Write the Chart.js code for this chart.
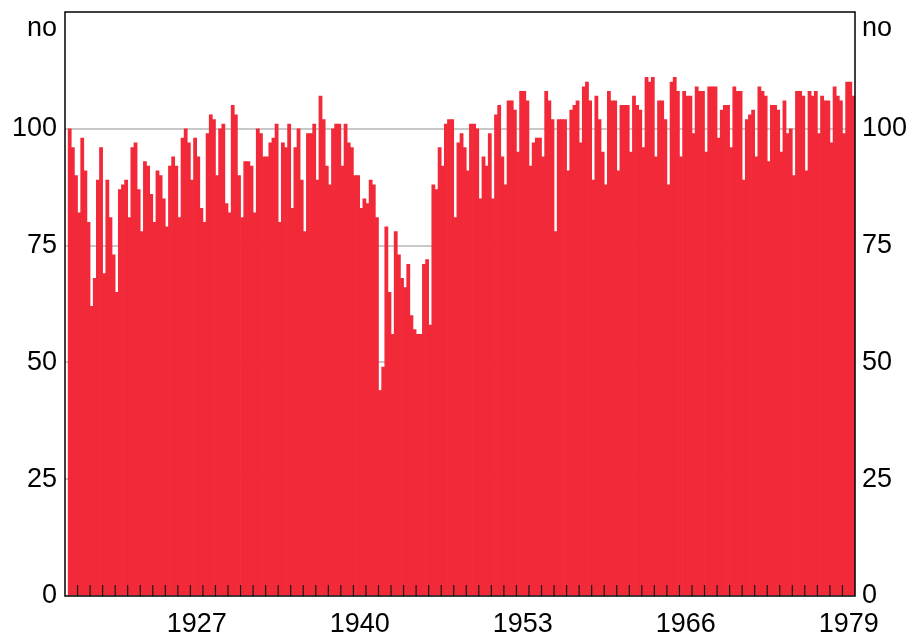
<!DOCTYPE html>
<html>
<head>
<meta charset="utf-8">
<script src="https://cdn.jsdelivr.net/npm/chart.js@4.4.1/dist/chart.umd.min.js"></script>
<style>
  html, body { margin: 0; padding: 0; background: #fff; }
  canvas { display: block; }
</style>
</head>
<body>
<canvas id="indexChart" width="909" height="641"></canvas>
<script>
const firstYear = 1917;
const lastYear = 1979;
const yearLabels = [1927, 1940, 1953, 1966, 1979];
const valueTicks = [0, 25, 50, 75, 100, 125];
const unitLabel = "no";

// quarterly, 1917 Q1 .. 1979 Q4 (no figure for 1917 Q1)
const quarterValues = [
    null, 100, 96, 90,   82, 98, 91, 80,
    62, 68, 89, 96,      69, 89, 81, 73,
    65, 87, 88, 89,      81, 96, 97, 87,
    78, 93, 92, 86,      80, 91, 90, 85,
    79, 92, 94, 92,      81, 98, 100, 97,
    89, 98, 94, 83,      80, 99, 103, 102,
    90, 100, 101, 84,    82, 105, 103, 90,
    81, 93, 93, 92,      82, 100, 99, 94,
    94, 97, 98, 101,     80, 97, 96, 101,
    83, 96, 100, 89,     78, 99, 99, 101,
    89, 107, 102, 92,    88, 100, 101, 101,
    92, 101, 97, 96,     90, 90, 83, 85,
    84, 89, 88, 81,      44, 49, 79, 65,
    56, 78, 73, 68,      66, 71, 60, 57,
    56, 56, 71, 72,      58, 88, 87, 96,
    92, 101, 102, 102,   81, 97, 99, 96,
    91, 101, 101, 100,   85, 94, 92, 99,
    85, 103, 105, 94,    88, 106, 106, 104,
    95, 108, 108, 106,   92, 97, 98, 98,
    94, 108, 106, 102,   78, 102, 102, 102,
    91, 104, 105, 106,   97, 109, 110, 106,
    89, 107, 102, 95,    88, 108, 106, 106,
    91, 105, 105, 105,   95, 107, 105, 104,
    96, 111, 110, 111,   94, 106, 106, 102,
    88, 110, 111, 108,   94, 108, 107, 107,
    99, 109, 108, 108,   95, 109, 109, 109,
    98, 104, 105, 105,   96, 109, 108, 108,
    89, 102, 103, 104,   94, 109, 108, 107,
    93, 105, 105, 104,   95, 106, 99, 100,
    90, 108, 108, 107,   91, 108, 107, 108,
    99, 107, 106, 106,   97, 109, 107, 106,
    99, 110, 110, 107
];

const quarters = [];
for (let y = firstYear; y <= lastYear; y++) {
    for (let q = 1; q <= 4; q++) quarters.push(y + " Q" + q);
}

const labelFont = { family: "'Liberation Sans', Arial, sans-serif", size: 27 };

// year tick marks inside the plot, plus the black frame
const frameAndTicks = {
    id: "frameAndTicks",
    afterDatasetsDraw(chart) {
        const ctx = chart.ctx;
        const area = chart.chartArea;
        const years = chart.scales.years;
        ctx.save();
        ctx.strokeStyle = "#1a1a1a";
        ctx.lineWidth = 1.2;
        ctx.beginPath();
        for (let y = firstYear + 1; y <= lastYear; y++) {
            const x = years.getPixelForValue(y);
            ctx.moveTo(x, area.bottom);
            ctx.lineTo(x, area.bottom - 11);
        }
        ctx.stroke();
        ctx.strokeStyle = "#000";
        ctx.lineWidth = 1.5;
        ctx.strokeRect(area.left, area.top, area.right - area.left, area.bottom - area.top);
        ctx.restore();
    }
};

function valueAxis(position, width, padding, withGrid) {
    return {
        position: position,
        min: 0,
        max: 125,
        afterBuildTicks: s => {
            s.ticks = valueTicks.map(v => ({ value: v }));
            s.min = 0;
            s.max = 125;
        },
        afterFit: s => { s.width = width; s.paddingTop = 0; s.paddingBottom = 0; },
        grid: {
            display: withGrid,
            drawTicks: false,
            lineWidth: 2,
            color: c => (c.tick && c.tick.value > 0 && c.tick.value < 125) ? "#c8c8c8" : "rgba(0,0,0,0)"
        },
        border: { display: false },
        ticks: {
            padding: padding,
            font: labelFont,
            color: "#000",
            callback: v => v === 125 ? ["", unitLabel] : v
        }
    };
}

new Chart(document.getElementById("indexChart").getContext("2d"), {
    type: "bar",
    data: {
        labels: quarters,
        datasets: [{
            data: quarterValues,
            backgroundColor: "#f22938",
            borderWidth: 0,
            barPercentage: 1,
            categoryPercentage: 1,
            xAxisID: "x",
            yAxisID: "y"
        }]
    },
    options: {
        responsive: false,
        animation: false,
        layout: { padding: { top: 12, left: 0, right: 0, bottom: 0 } },
        plugins: {
            legend: { display: false },
            tooltip: { enabled: false }
        },
        scales: {
            x: { display: false, offset: true },
            years: {
                type: "linear",
                axis: "x",
                position: "bottom",
                offset: false,
                bounds: "data",
                min: firstYear,
                max: lastYear + 1,
                afterBuildTicks: s => {
                    s.ticks = yearLabels.map(v => ({ value: v + 0.5 }));
                    s.min = firstYear;
                    s.max = lastYear + 1;
                },
                afterFit: s => { s.height = 45; s.paddingLeft = 0; s.paddingRight = 0; },
                grid: { display: false, drawTicks: false, offset: false },
                border: { display: false },
                ticks: {
                    padding: 12,
                    maxRotation: 0,
                    autoSkip: false,
                    font: labelFont,
                    color: "#000",
                    callback: v => Math.floor(v)
                }
            },
            y: valueAxis("left", 65, 8, true),
            y2: valueAxis("right", 54, 7, false)
        }
    },
    plugins: [frameAndTicks]
});
</script>
</body>
</html>
